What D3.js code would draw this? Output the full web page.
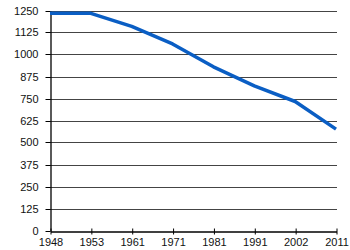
<!DOCTYPE html>
<html><head><meta charset="utf-8">
<script src="https://cdn.jsdelivr.net/npm/d3@7"></script>
<style>body{margin:0;background:#fff}svg{display:block}text{font-family:"Liberation Sans",Arial,sans-serif;font-size:11px;fill:#111}</style>
</head><body><svg id="c" width="350" height="250"></svg>
<script>
const years = ["1948","1953","1961","1971","1981","1991","2002","2011"];
const values = [1234,1234,1160,1060,930,822,733,576];
const yTicks = [0,125,250,375,500,625,750,875,1000,1125,1250];

const svg = d3.select("#c");
const m = {l:50, r:14, t:10.5, b:19.5};
const W = 350, H = 250;
const x = d3.scalePoint().domain(years).range([m.l, W - m.r]);
const y = d3.scaleLinear().domain([0,1250]).range([H - m.b, m.t]);

// gridlines
svg.append("g").selectAll("line").data(yTicks.filter(d=>d>0)).join("line")
  .attr("x1", m.l).attr("x2", W - m.r + 1)
  .attr("y1", d=>Math.round(y(d))+0.5).attr("y2", d=>Math.round(y(d))+0.5)
  .attr("stroke","#444").attr("stroke-width",1);

// y axis
const ya = svg.append("g").attr("transform",`translate(${m.l+0.5},0.5)`)
  .call(d3.axisLeft(y).tickValues(yTicks).tickFormat(d3.format("d")).tickSize(5).tickPadding(7).tickSizeOuter(0));
ya.select(".domain").attr("stroke","#000").attr("stroke-width",1.3);
ya.selectAll(".tick line").attr("stroke","#000");
ya.selectAll("text").attr("font-size",null).attr("font-family",null).attr("fill","#111");
ya.selectAll(".tick").attr("transform", d=>`translate(0,${Math.round(y(d))})`);

// x axis
const xa = svg.append("g").attr("transform",`translate(0.5,${Math.round(y(0))+0.5})`)
  .call(d3.axisBottom(x).tickSize(3).tickPadding(4).tickSizeOuter(0));
xa.select(".domain").attr("stroke","#000").attr("stroke-width",1.3);
xa.selectAll(".tick line").attr("stroke","#000").attr("y1",-3).attr("y2",3);
xa.selectAll("text").attr("font-size",null).attr("font-family",null).attr("fill","#111");

// line
svg.append("path").datum(values)
  .attr("fill","none").attr("stroke","#0a5ec4").attr("stroke-width",3.5)
  .attr("stroke-linejoin","round").attr("stroke-linecap","butt")
  .attr("d", d3.line().x((d,i)=>x(years[i])).y(d=>y(d)));
</script></body></html>
